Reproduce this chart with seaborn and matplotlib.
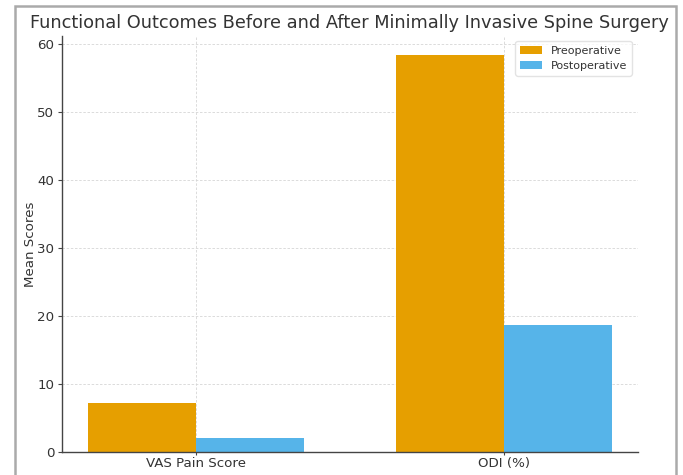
import matplotlib
matplotlib.use("Agg")
import matplotlib.pyplot as plt
import seaborn as sns
import pandas as pd
from matplotlib.patches import Rectangle

# Outcome measures and mean scores
measures = ["VAS Pain Score", "ODI (%)"]
preoperative = [7.2, 58.4]
postoperative = [2.1, 18.7]
series_names = ["Preoperative", "Postoperative"]
colors = ["#E69F00", "#56B4E9"]

df = pd.DataFrame({
    "Measure": measures * 2,
    "Score": preoperative + postoperative,
    "Timepoint": [series_names[0]] * len(measures) + [series_names[1]] * len(measures),
})

sns.set_style("white")
plt.rcParams["font.family"] = ["DejaVu Sans"]

fig = plt.figure(figsize=(6.83, 4.75), dpi=100)
ax = fig.add_axes([0.0908, 0.048, 0.843, 0.877])

sns.barplot(data=df, x="Measure", y="Score", hue="Timepoint",
            palette=colors, width=0.7, saturation=1, ax=ax,
            edgecolor="none", linewidth=0, zorder=2)

ax.set_xlim(-0.435, 1.435)
ax.set_ylim(0, 61.3)
ax.set_yticks([0, 10, 20, 30, 40, 50, 60])
ax.grid(True, linestyle=(0, (3, 2)), color="#d6d6d6", linewidth=0.6, zorder=0)
ax.set_axisbelow(True)

for side in ["top", "right"]:
    ax.spines[side].set_visible(False)
for side in ["left", "bottom"]:
    ax.spines[side].set_color("#444444")
    ax.spines[side].set_linewidth(1.0)

ax.tick_params(axis="both", which="both", length=3, color="#444444",
               labelsize=9.6, labelcolor="#333333", bottom=True, left=True, pad=2.5)
ax.tick_params(axis="x", length=2, pad=1.5)
ax.set_xlabel("")
ax.set_ylabel("Mean Scores", fontsize=9.6, color="#333333", labelpad=0)
ax.set_title("Functional Outcomes Before and After Minimally Invasive Spine Surgery",
             fontsize=12.8, color="#333333", pad=5.5)

leg = ax.legend(loc="upper right", fontsize=8, frameon=True,
                bbox_to_anchor=(0.999, 1.0), handlelength=2.0)
leg.get_frame().set_edgecolor("#dddddd")
for t in leg.get_texts():
    t.set_color("#333333")

# Surrounding page frame
fig.patches.append(Rectangle((15 / 683, -0.1), 661 / 683, 1.1 - 6 / 475,
                             transform=fig.transFigure, fill=False,
                             edgecolor="#aaaaaa", linewidth=1.8))

fig.savefig("out.png", dpi=100)
